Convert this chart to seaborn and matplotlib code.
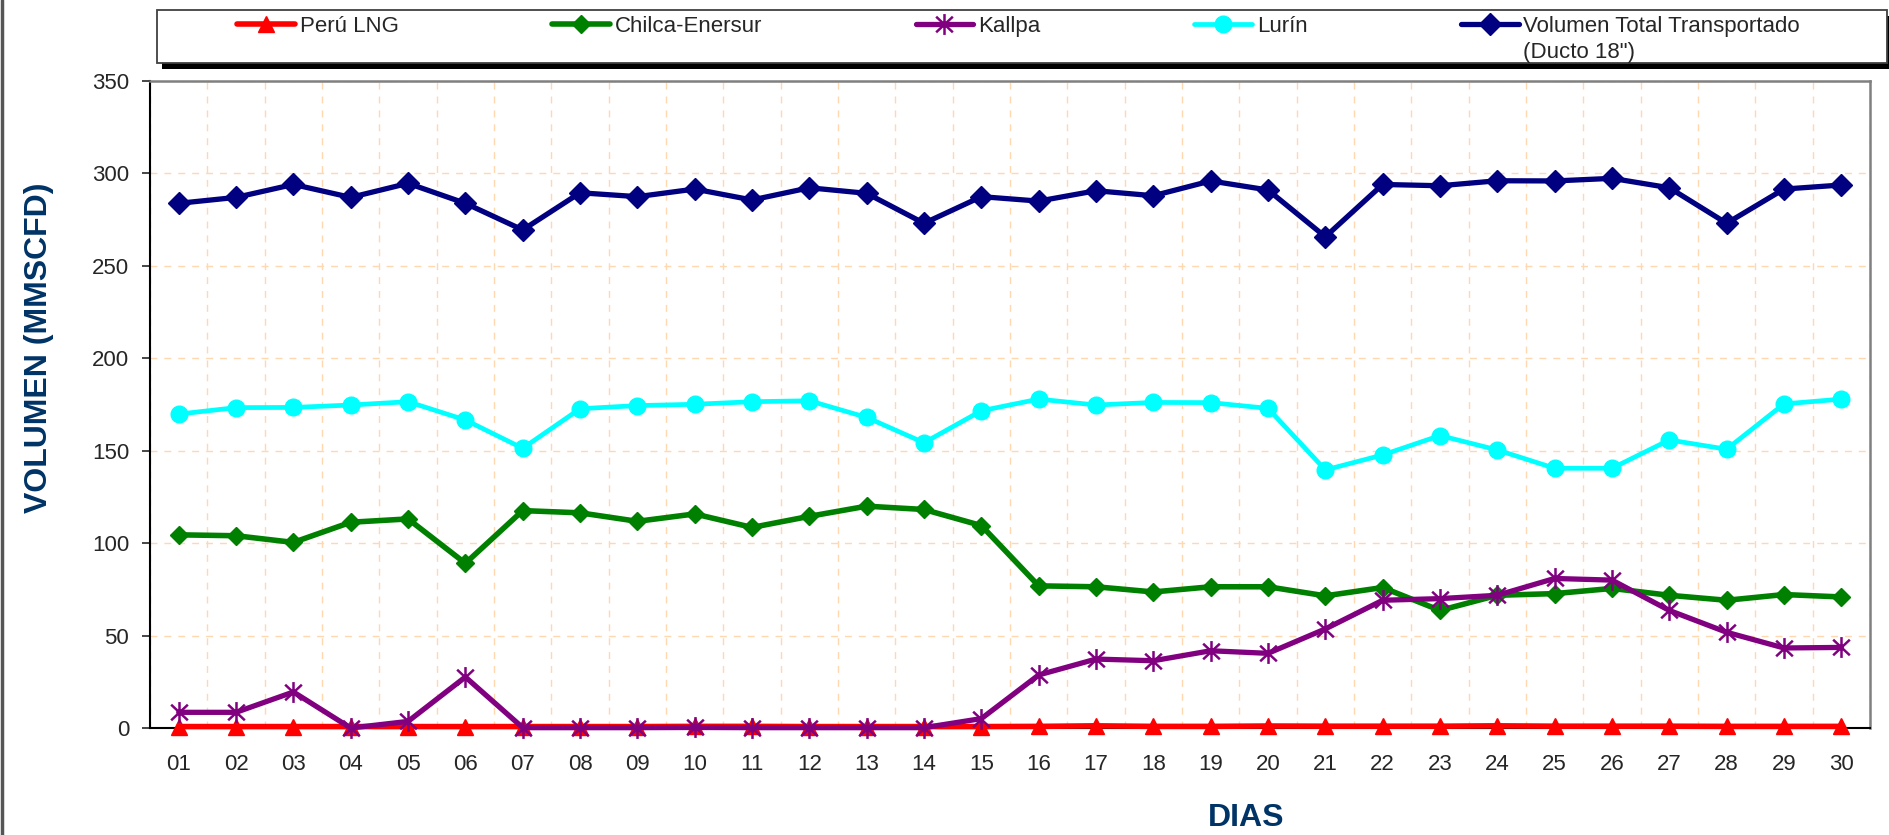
import numpy as np
import seaborn as sns
import matplotlib.pyplot as plt
from matplotlib.path import Path
from matplotlib.lines import Line2D
from matplotlib.patches import Rectangle

# dias del mes
dias = ["01", "02", "03", "04", "05", "06", "07", "08", "09", "10",
        "11", "12", "13", "14", "15", "16", "17", "18", "19", "20",
        "21", "22", "23", "24", "25", "26", "27", "28", "29", "30"]

# volumenes (MMSCFD)
peru_lng = [0.8, 0.8, 0.8, 0.8, 0.8, 0.8, 0.8, 0.8, 0.8, 0.9,
            0.9, 0.8, 0.8, 0.8, 0.8, 0.9, 1.2, 0.9, 0.9, 1.1,
            1.0, 1.0, 1.0, 1.2, 1.0, 1.0, 1.0, 0.9, 0.9, 0.9]
chilca = [104.5, 104.0, 100.4, 111.3, 113.1, 89.1, 117.6, 116.4, 111.8, 115.8,
          108.5, 114.5, 120.0, 118.2, 109.5, 76.9, 76.4, 73.6, 76.4, 76.4,
          71.5, 76.0, 63.6, 71.8, 72.7, 75.5, 71.8, 69.1, 72.2, 70.9]
kallpa = [8.5, 8.5, 19.5, 0.0, 3.6, 27.6, 0.2, 0.2, 0.2, 0.3,
          0.2, 0.2, 0.2, 0.2, 5.1, 28.7, 37.3, 36.4, 41.8, 40.4,
          53.6, 69.1, 70.0, 71.8, 80.9, 80.0, 63.6, 51.8, 43.3, 43.6]
lurin = [169.8, 173.3, 173.4, 174.7, 176.5, 166.6, 151.3, 172.7, 174.4, 175.1,
         176.5, 177.0, 168.0, 154.3, 171.6, 177.9, 174.7, 176.1, 176.0, 172.9,
         139.6, 147.7, 158.2, 150.4, 140.5, 140.5, 155.8, 150.8, 175.3, 177.9]
total = [283.8, 287.0, 294.0, 287.0, 294.6, 283.8, 269.4, 289.5, 287.4, 291.5,
         285.6, 292.2, 289.2, 273.0, 287.4, 285.0, 290.6, 287.9, 295.9, 291.0,
         265.7, 294.0, 293.3, 296.0, 295.9, 297.3, 292.2, 273.0, 291.5, 293.7]

nombres = ["Perú LNG", "Chilca-Enersur", "Kallpa", "Lurín", "Volumen Total Transportado"]
nota_total = '(Ducto 18")'

sns.set_style("white")
plt.rcParams['font.family'] = ['Liberation Sans', 'DejaVu Sans']

# asterisco estilo excel
asterisco = Path([(0, -1), (0, 1), (-0.8, -0.75), (0.8, 0.75), (-0.8, 0.75), (0.8, -0.75)],
                 [Path.MOVETO, Path.LINETO, Path.MOVETO, Path.LINETO, Path.MOVETO, Path.LINETO])

estilos = [
    dict(color="#FF0000", marker="^", markersize=12, lw=4.0),
    dict(color="#008000", marker="D", markersize=9, lw=4.0),
    dict(color="#800080", marker=asterisco, markersize=15, lw=3.8, markeredgewidth=1.8),
    dict(color="#00FFFF", marker="o", markersize=12, lw=3.4),
    dict(color="#000080", marker="D", markersize=11, lw=3.8),
]

fig = plt.figure(figsize=(18.9, 8.35), dpi=100)
ax = fig.add_axes([0.0794, 0.1281, 0.910, 0.775])

x = np.arange(len(dias))
for serie, nombre, st in zip([peru_lng, chilca, kallpa, lurin, total], nombres, estilos):
    sns.lineplot(x=x, y=serie, ax=ax, label=nombre, color=st["color"], marker=st["marker"],
                 markersize=st["markersize"], linewidth=st["lw"],
                 markeredgecolor=st["color"], markeredgewidth=st.get("markeredgewidth", 1),
                 zorder=3, clip_on=False)

ax.set_xlim(-0.5, len(dias) - 0.5)
ax.set_ylim(0, 350)
ax.set_yticks(range(0, 351, 50))
ax.set_xticks(x)
ax.set_xticklabels(dias)
ax.set_xticks(np.arange(len(dias) + 1) - 0.5, minor=True)

ax.grid(False)
ax.grid(which="minor", axis="x", color="#FFD8B0", ls=(0, (5, 5)), lw=1)
ax.grid(which="major", axis="y", color="#FFD8B0", ls=(0, (5, 5)), lw=1)
ax.set_axisbelow(True)

ax.tick_params(axis="x", which="major", length=0, pad=19, labelsize=16)
ax.tick_params(axis="x", which="minor", direction="out", length=6, width=1.2, color="#333333")
ax.tick_params(axis="y", direction="out", length=6, width=1.2, pad=9, labelsize=16, left=True)

for s in ["top", "right"]:
    ax.spines[s].set_color("#808080")
    ax.spines[s].set_linewidth(1.8)
for s in ["left", "bottom"]:
    ax.spines[s].set_color("black")
    ax.spines[s].set_linewidth(1.5)

ax.set_xlabel("DIAS", fontsize=23, fontweight="bold", color="#003366")
ax.set_ylabel("VOLUMEN (MMSCFD)", fontsize=23, fontweight="bold", color="#003366")
ax.xaxis.set_label_coords(0.637, -0.116)
ax.yaxis.set_label_coords(-0.056, 0.587)

# caja de leyenda con sombra
caja = (157 / 1890, 1 - 63 / 835, 1730 / 1890, 53 / 835)
fig.add_artist(Rectangle((caja[0] + 5 / 1890, caja[1] - 6 / 835), caja[2], caja[3],
                         transform=fig.transFigure, fc="black", ec="none", zorder=1))
fig.add_artist(Rectangle(caja[:2], caja[2], caja[3], transform=fig.transFigure,
                         fc="white", ec="#404040", lw=1.3, zorder=2))

handles, labels = ax.get_legend_handles_labels()
ax.get_legend().remove()
leg = fig.legend(handles, labels, loc="center left", bbox_to_anchor=(0.1254, 0.968, 0.827, 0.0),
                 mode="expand", ncol=5, frameon=False, fontsize=16, handlelength=2.6,
                 handletextpad=0.22, borderaxespad=0, borderpad=0)
leg.set_zorder(3)

fig.canvas.draw()
bb = leg.get_texts()[-1].get_window_extent()
fig.text(bb.x0 / fig.bbox.width, 0.937, nota_total, fontsize=16, va="center", ha="left", zorder=4)

# borde izquierdo del grafico
fig.add_artist(Line2D([0.0013, 0.0013], [0, 1], transform=fig.transFigure, color="#555555", lw=2.5))

plt.savefig("out.png", dpi=100)
